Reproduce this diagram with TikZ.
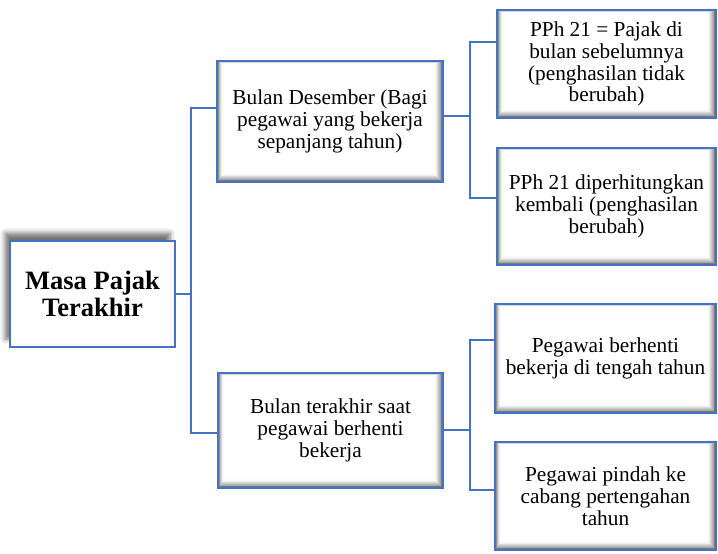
\documentclass[tikz,border=0pt]{standalone}
\usepackage{fontspec}
\setmainfont{Liberation Serif}
\usetikzlibrary{shadows.blur}
\definecolor{cblue}{RGB}{68,114,196}
\tikzset{
  conn/.style={draw=cblue, line width=2pt},
  bevel/.style={
    path picture={
      \foreach \i/\c in {0/62,1/52,2/43,3/35,4/28,5/21,6/15,7/10,8/6,9/3,10/1,11/0}{
        \fill[black!\c] ([xshift={0.5pt*\i}, yshift={0.8pt*\i}]path picture bounding box.south west)
          rectangle ([xshift={-0.8pt*\i}, yshift={-0.22pt*\i}]path picture bounding box.north east);
      }
    }
  },
  box/.style={rectangle, draw=cblue, line width=1.5pt, fill=white, align=center,
    inner sep=0pt, font=\fontsize{21.3}{21.8}\selectfont, bevel},
  rootbox/.style={rectangle, draw=cblue, line width=1.8pt, fill=white, align=center,
    inner sep=0pt, font=\fontsize{26.5}{27}\selectfont\bfseries,
    blur shadow={shadow xshift=-5pt, shadow yshift=8pt, shadow blur radius=5pt, shadow opacity=55}}
}
\begin{document}
\begin{tikzpicture}[x=1pt,y=-1pt]
\useasboundingbox (0,0) rectangle (718,554);

\node[rootbox, minimum width=165pt, minimum height=106pt] (root) at (92.5,294) {Masa Pajak\\Terakhir};

\node[box, minimum width=226pt, minimum height=121pt] (b1) at (330,121.5) {Bulan Desember (Bagi\\pegawai yang bekerja\\sepanjang tahun)};
\node[box, minimum width=225pt, minimum height=115pt] (b2) at (330.5,430.5) {Bulan terakhir saat\\pegawai berhenti\\bekerja};

\node[box, minimum width=219pt, minimum height=108pt] (c1) at (606.5,64) {PPh 21 = Pajak di\\bulan sebelumnya\\(penghasilan tidak\\berubah)};
\node[box, minimum width=219pt, minimum height=117pt] (c2) at (606.5,206.5) {PPh 21 diperhitungkan\\kembali (penghasilan\\berubah)};
\node[box, minimum width=221pt, minimum height=109pt] (c3) at (605.5,358.5) {Pegawai berhenti\\bekerja di tengah tahun};
\node[box, minimum width=221pt, minimum height=108pt] (c4) at (605.5,496) {Pegawai pindah ke\\cabang pertengahan\\tahun};

% junctions
\coordinate (j0) at (191,294);
\coordinate (j0t) at (191,108);
\coordinate (j0b) at (191,433);
\coordinate (j1) at (470,116);
\coordinate (j1t) at (470,42);
\coordinate (j1b) at (470,198);
\coordinate (j2) at (470,430);
\coordinate (j2t) at (470,340);
\coordinate (j2b) at (470,490);

\draw[conn] (root.east) -- (j0);
\draw[conn] (j0t -| b1.west) -- (j0t) -- (j0b) -- (j0b -| b2.west);

\draw[conn] (j1 -| b1.east) -- (j1);
\draw[conn] (j1t -| c1.west) -- (j1t) -- (j1b) -- (j1b -| c2.west);

\draw[conn] (j2 -| b2.east) -- (j2);
\draw[conn] (j2t -| c3.west) -- (j2t) -- (j2b) -- (j2b -| c4.west);
\end{tikzpicture}
\end{document}
